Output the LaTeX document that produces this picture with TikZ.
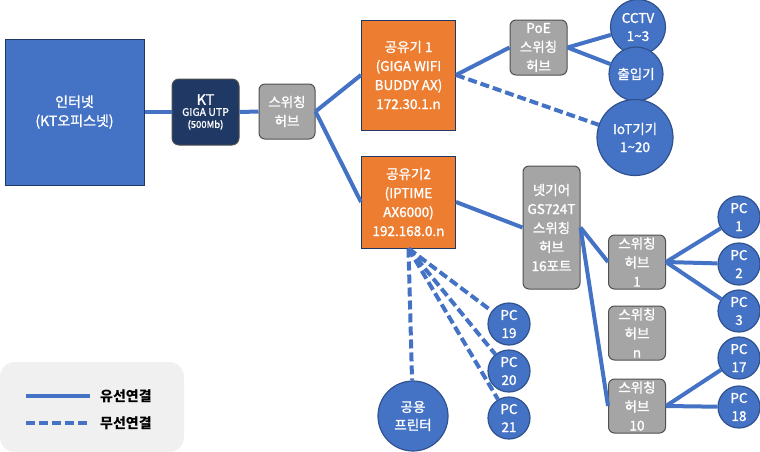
\documentclass[tikz,border=0pt]{standalone}
\usepackage{fontspec}
\setmainfont{Noto Sans CJK KR}
\newfontfamily\semib[FakeBold=1.3]{Noto Sans CJK KR}
\definecolor{cblue}{HTML}{4472C4}
\definecolor{corange}{HTML}{ED7D31}
\definecolor{cnavy}{HTML}{1F3864}
\definecolor{cgray}{HTML}{A5A5A5}
\definecolor{cdgray}{HTML}{505050}
\definecolor{cdblue}{HTML}{2F528F}
\definecolor{clegend}{HTML}{F0F0F0}
\begin{document}
\begin{tikzpicture}[x=1pt,y=-1pt,
  txt/.style={text=white, align=center, inner sep=0pt},
  sqbox/.style={txt, draw=cnavy, line width=1pt, font=\semib\fontsize{13.5}{19}\selectfont},
  hubbox/.style={txt, rounded corners=6pt, fill=cgray, draw=cdgray, line width=1pt,
    minimum width=57, minimum height=55, font=\semib\fontsize{13.5}{19}\selectfont},
  dev/.style={txt, circle, fill=cblue, draw=cdblue, line width=1.2pt, inner sep=0pt,
    font=\semib\fontsize{13.5}{18}\selectfont},
  wire/.style={cblue, line width=4pt},
  wless/.style={cblue, line width=4pt, dash pattern=on 9pt off 4pt},
  legtext/.style={text=black, anchor=west, inner sep=0pt, font=\fontsize{14}{16}\selectfont\bfseries}
]
\useasboundingbox (0,0) rectangle (760,451);

% legend
\node[fill=clegend, rounded corners=15pt, minimum width=184, minimum height=90, inner sep=0] (leg) at (92,407) {};
\coordinate (ls1) at (26,396); \coordinate (le1) at (90,396);
\coordinate (ls2) at (26,423); \coordinate (le2) at (90,423);
\draw[wire] (ls1) -- (le1);
\draw[wless] (ls2) -- (le2);
\node[legtext] (lt1) at (100,396) {유선연결};
\node[legtext] (lt2) at (100,423) {무선연결};

% nodes
\node[sqbox, fill=cblue, minimum width=139, minimum height=146, font=\semib\fontsize{14}{19}\selectfont] (inet) at (74.5,112) {인터넷\\(KT오피스넷)};
\node[txt, rounded corners=7pt, fill=cnavy, draw=cdgray, line width=1pt, minimum width=67, minimum height=66] (kt) at (205.5,112)
  {{\semib\fontsize{14.5}{15}\selectfont KT}\\[-1pt]{\semib\fontsize{10.5}{14}\selectfont GIGA UTP}\\{\semib\fontsize{9.5}{13}\selectfont (500Mb)}};
\node[hubbox, minimum width=56] (hub0) at (287,111.5) {스위칭\\허브};
\node[sqbox, fill=corange, minimum width=94, minimum height=110] (r1) at (408.5,75) {공유기 1\\(GIGA WIFI\\BUDDY AX)\\172.30.1.n};
\node[sqbox, fill=corange, minimum width=94, minimum height=92] (r2) at (408.5,202) {공유기2\\(IPTIME\\AX6000)\\192.168.0.n};
\node[hubbox] (poe) at (538.5,47.5) {PoE\\스위칭\\허브};
\node[dev, minimum size=55] (cctv) at (638,27) {CCTV\\1\textasciitilde 3};
\node[dev, minimum size=54] (door) at (636,74) {출입기};
\node[dev, minimum size=76] (iot) at (635,137.5) {IoT기기\\1\textasciitilde 20};
\node[hubbox, minimum height=123] (ng) at (551.5,227.5) {넷기어\\GS724T\\스위칭\\허브\\16포트};
\node[hubbox, minimum height=54] (h1) at (637,262) {스위칭\\허브\\1};
\node[hubbox, minimum height=54] (hn) at (637,333) {스위칭\\허브\\n};
\node[hubbox, minimum height=54] (h10) at (637,406) {스위칭\\허브\\10};
\node[dev, minimum size=42] (pc1) at (739,217) {PC\\1};
\node[dev, minimum size=42] (pc2) at (739,264) {PC\\2};
\node[dev, minimum size=42] (pc3) at (739,311) {PC\\3};
\node[dev, minimum size=42] (pc17) at (739,358) {PC\\17};
\node[dev, minimum size=42] (pc18) at (739,407) {PC\\18};
\node[dev, minimum size=42] (pc19) at (509,324) {PC\\19};
\node[dev, minimum size=42] (pc20) at (509,371) {PC\\20};
\node[dev, minimum size=42] (pc21) at (509,418) {PC\\21};
\node[dev, minimum size=70] (prn) at (413,416) {공용\\프린터};

% wired connections
\draw[wire] (inet.east) -- (kt.west);
\draw[wire] (kt.east) -- (hub0.west);
\draw[wire] (hub0.east) -- (r1.west);
\draw[wire] (hub0.east) -- (r2.west);
\draw[wire] (r1.east) -- (poe.west);
\draw[wire] (poe.east) -- (cctv);
\draw[wire] (poe.east) -- (door);
\draw[wire] (r2.east) -- (ng.west);
\draw[wire] (ng.east) -- (h1.west);
\draw[wire] (ng.east) -- (h10.west);
\draw[wire] (h1.east) -- (pc1);
\draw[wire] (h1.east) -- (pc2);
\draw[wire] (h1.east) -- (pc3);
\draw[wire] (h10.east) -- (pc17);
\draw[wire] (h10.east) -- (pc18);

% wireless connections
\draw[wless] (r1.east) -- (iot);
\draw[wless] (r2.south) -- (prn);
\draw[wless] (r2.south) -- (pc19);
\draw[wless] (r2.south) -- (pc20);
\draw[wless] (r2.south) -- (pc21);
\end{tikzpicture}
\end{document}
